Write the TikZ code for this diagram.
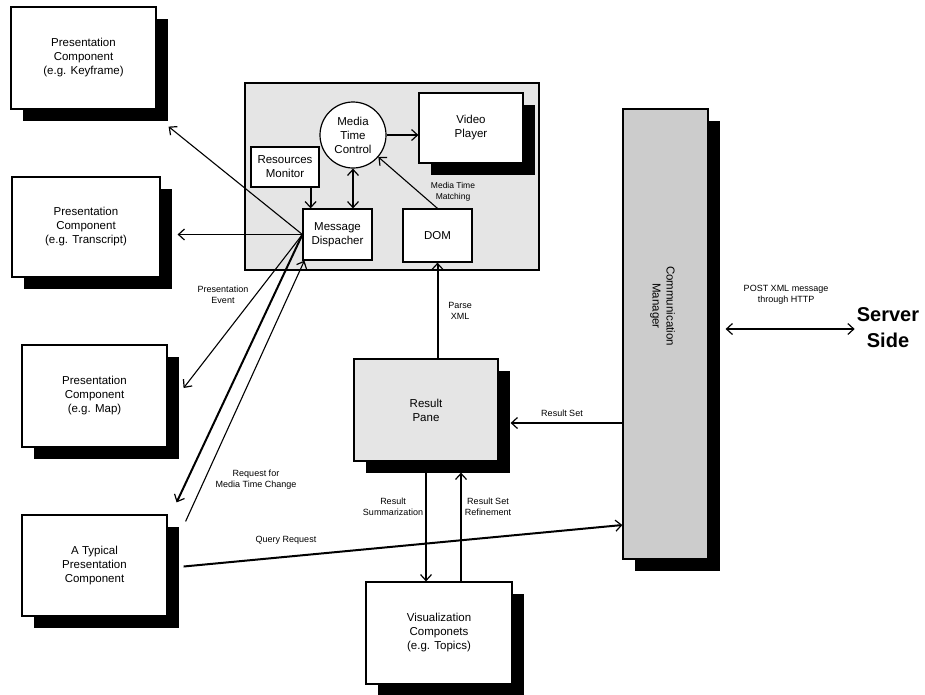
\documentclass[tikz,border=0pt]{standalone}
\usepackage{fontspec}
\setmainfont{Liberation Sans}
\usetikzlibrary{shadows,calc,arrows.meta}

\begin{document}
\begin{tikzpicture}[x=1pt,y=-1pt,
	tip/.tip={Straight Barb[length=6pt,width=11pt,line width=1.2pt]},
	box/.style={draw,line width=1.2pt,fill=white,inner sep=0pt,align=center,font=\fontsize{11.5}{14}\selectfont},
	shbox/.style={box,drop shadow={shadow xshift=12pt,shadow yshift=-12pt,fill=black,opacity=1}},
	lbl/.style={align=center,inner sep=0pt,font=\fontsize{9}{11}\selectfont},
	arr/.style={-tip,line width=1.1pt},
	fatarr/.style={-tip,line width=2pt},
	twoway/.style={tip-tip}]
				\useasboundingbox (0,0) rectangle (925,694);
				%client panel
				\node[box,fill=black!10,minimum width=294,minimum height=187] (panel) at (392,176.5) {};
				\node[shbox,minimum width=104,minimum height=70] (vp) at (471,128) {Video\\Player};
				\node[box,circle,minimum size=66] (mtc) at (353,135) {Media\\Time\\Control};
				\node[box,minimum width=68,minimum height=40] (rm) at (285,167) {Resources\\Monitor};
				\node[box,minimum width=69,minimum height=51] (md) at (337.5,234.5) {Message\\Dispacher};
				\node[box,minimum width=69,minimum height=53] (dom) at (437.5,235.5) {DOM};
				%presentation components
				\node[shbox,minimum width=145,minimum height=102] (kf) at (83.5,58) {Presentation\\Component\\(e.g. Keyframe)};
				\node[shbox,minimum width=148,minimum height=100] (tr) at (86,227) {Presentation\\Component\\(e.g. Transcript)};
				\node[shbox,minimum width=145,minimum height=102] (mp) at (94.5,396) {Presentation\\Component\\(e.g. Map)};
				\node[shbox,minimum width=145,minimum height=101] (ty) at (94.5,565.5) {A Typical\\Presentation\\Component};
				%result side
				\node[shbox,fill=black!10,minimum width=144,minimum height=102] (rp) at (426,410) {Result\\Pane};
				\node[shbox,minimum width=146,minimum height=102] (vis) at (439,633) {Visualization\\Componets\\(e.g. Topics)};
				\node[shbox,fill=black!20,minimum width=85,minimum height=450] (cm) at (665.5,334) {};
				\node[lbl,rotate=-90,font=\fontsize{11.5}{14}\selectfont] (cmlbl) at (662.5,306) {Communication\\Manager};
				\node[align=center,inner sep=2pt,font=\fontsize{20}{26}\bfseries] (srv) at (888,328) {Server\\Side};
				%inside panel
				\coordinate (rmout) at ($(rm.south east)+(-9,0)$);
				\draw[fatarr] (rmout) -- (rmout |- md.north);
				\draw[fatarr,twoway] (mtc.south) -- (mtc.south |- md.north);
				\draw[arr] (mtc.east) -- (mtc.east -| vp.west);
				\draw[arr] (dom.north) -- (mtc);
				\node[lbl,font=\fontsize{8.5}{11}\selectfont] (mtm) at (453,192) {Media Time\\Matching};
				%dispacher fan
				\draw[arr] (md.west) -- ($(kf.south east)+(12,17)$);
				\draw[arr] (md.west) -- ($(md.west -| tr.east)+(17,0)$);
				\draw[arr] (md.west) -- ($(mp.east)+(16,-8)$);
				\draw[fatarr] (md.west) -- ($(ty.north east)+(9,-12)$);
				\draw[arr] ($(ty.north east)+(18,7)$) -- ($(md.south west)+(2,0)$);
				\node[lbl] (pe) at (223,295) {Presentation\\Event};
				\node[lbl] (rmt) at (256,480) {Request for\\Media Time Change};
				%result pane
				\draw[fatarr] (rp.north -| dom.south) -- (dom.south);
				\node[lbl] (px) at (460,311) {Parse\\XML};
				\draw[fatarr] (rp.south) -- (rp.south |- vis.north);
				\draw[fatarr] ($(vis.north)+(22,0)$) -- ($(rp.south -| vis.north)+(22,11)$);
				\node[lbl] (rs) at (393,507) {Result\\Summarization};
				\node[lbl] (rsr) at (488,507) {Result Set\\Refinement};
				\draw[arr] ($(cm.west)+(0,89)$) -- ($(rp.east)+(12,13)$);
				\node[lbl] (rset) at (562,413) {Result Set};
				%query and server
				\draw[fatarr] ($(ty.east)+(16,1)$) -- ($(cm.west)+(0,191)$);
				\node[lbl] (qr) at (286,540) {Query Request};
				\coordinate (cmout) at ($(cm.east)+(17,-5)$);
				\draw[arr,twoway] (cmout) -- (cmout -| srv.west);
				\node[lbl] (post) at (786,295) {POST XML message\\through HTTP};
\end{tikzpicture}
\end{document}
